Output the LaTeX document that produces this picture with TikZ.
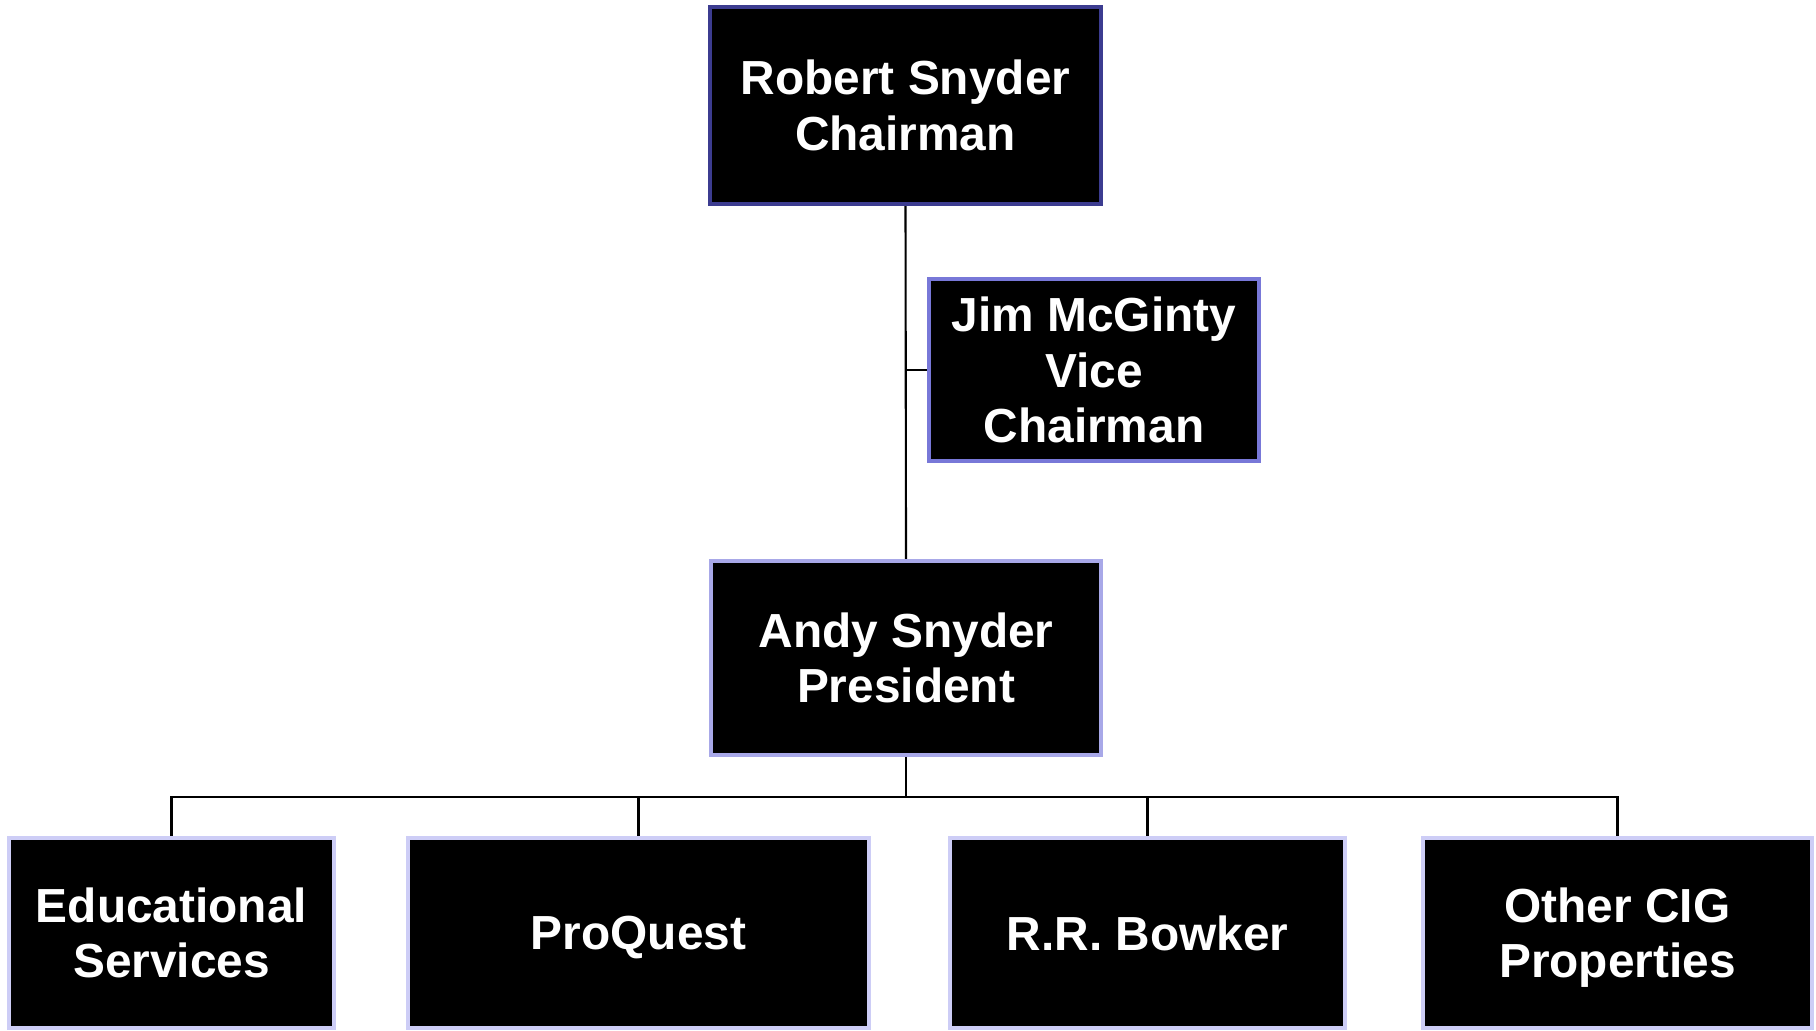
\documentclass[tikz,border=0pt]{standalone}
\usepackage{fontspec}
\setmainfont{Liberation Sans}
\usepackage{xcolor}
\usetikzlibrary{positioning,calc}

\definecolor{topedge}{HTML}{3C3C90}
\definecolor{vicedge}{HTML}{7878D8}
\definecolor{presedge}{HTML}{A8A8E8}
\definecolor{unitedge}{HTML}{CDCDF6}

\begin{document}
\begin{tikzpicture}[x=0.01cm, y=-0.01cm,
  orgbox/.style={draw, fill=black, text=white, line width=1.2pt, inner sep=0pt,
    align=center, font=\fontsize{13.6}{15.8}\selectfont\bfseries},
  link/.style={draw, line width=0.6pt}]
\useasboundingbox (0,0) rectangle (1816,1030);

% Top of the chart
\node[orgbox, draw=topedge, minimum width=3.91cm, minimum height=1.97cm] (chair) at (905.5,105.5) {Robert Snyder\\Chairman};
\node[orgbox, draw=vicedge, minimum width=3.30cm, minimum height=1.82cm] (vice) at (1094,370) {Jim McGinty\\Vice\\Chairman};
\node[orgbox, draw=presedge, minimum width=3.90cm, minimum height=1.94cm] (pres) at (906,658) {Andy Snyder\\President};

% Units (bottom row)
\node[orgbox, draw=unitedge, minimum width=3.25cm, minimum height=1.90cm] (edu) at (171.5,933) {Educational\\Services};
\node[orgbox, draw=unitedge, minimum width=4.61cm, minimum height=1.90cm, text depth=0pt] (pq) at (638.5,933) {ProQuest};
\node[orgbox, draw=unitedge, minimum width=3.95cm, minimum height=1.90cm] (rrb) at (1147.5,933) {R.R. Bowker};
\node[orgbox, draw=unitedge, minimum width=3.89cm, minimum height=1.90cm] (cig) at (1617.5,933) {Other CIG\\Pro\smash{p}erties};

% Connectors
\draw[link] (chair.south) -- (pres.north);
\draw[link] (vice.west) -- (vice.west -| chair.south);
\coordinate (bus) at (906,797);
\draw[link] (pres.south) -- (bus);
\foreach \unit in {edu,pq,rrb,cig}
  \draw[link] (bus) -| (\unit.north);

\end{tikzpicture}
\end{document}
